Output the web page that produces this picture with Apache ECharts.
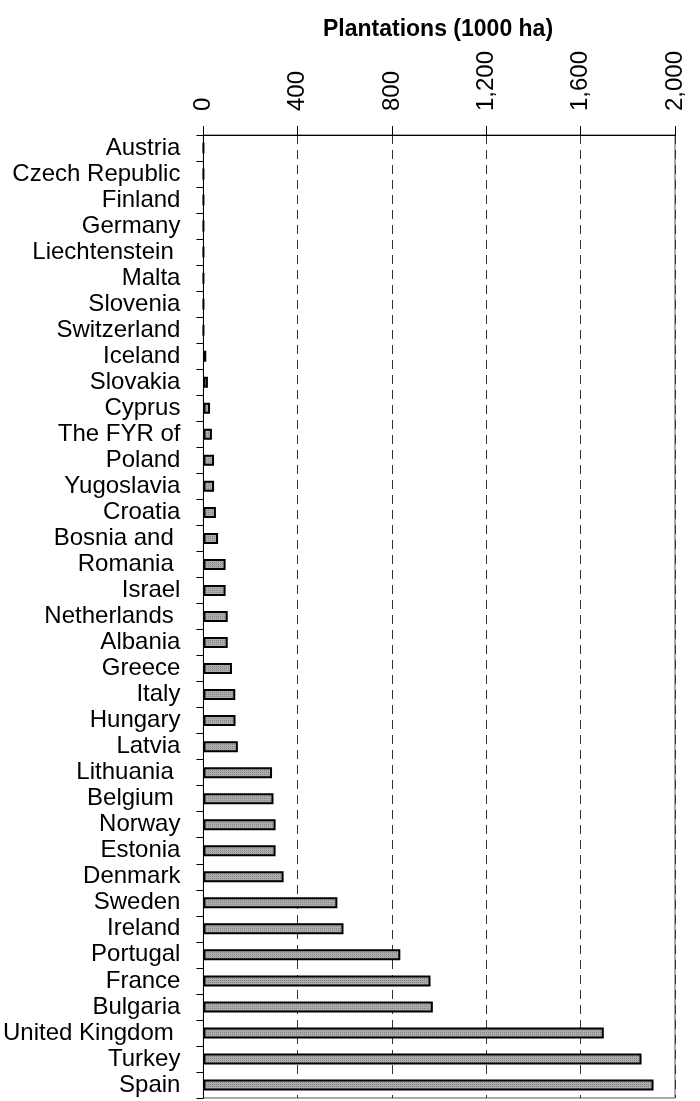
<!DOCTYPE html>
<html>
<head>
<meta charset="utf-8">
<script src="https://cdn.jsdelivr.net/npm/echarts@6/dist/echarts.min.js"></script>
<style>
html,body{margin:0;padding:0;background:#fff;}
#chart{width:700px;height:1101px;}
</style>
</head>
<body>
<div id="chart"></div>
<script>
const titleText = 'Plantations (1000 ha)';
const categories = ['Austria','Czech Republic','Finland','Germany','Liechtenstein ','Malta','Slovenia','Switzerland','Iceland','Slovakia','Cyprus','The FYR of','Poland','Yugoslavia','Croatia','Bosnia and ','Romania ','Israel','Netherlands ','Albania','Greece','Italy','Hungary','Latvia','Lithuania ','Belgium ','Norway','Estonia','Denmark','Sweden','Ireland','Portugal','France','Bulgaria','United Kingdom ','Turkey','Spain'];
const plantations = [0,0,0,0,0,0,0,0,12,19,28,36,45,45,53,62,94,94,103,103,121,135,136,146,291,297,306,306,340,568,594,835,963,973,1698,1858,1909];
const axisMin = 0, axisMax = 2000, axisInterval = 400;

const pc = document.createElement('canvas');
pc.width = 2; pc.height = 2;
const g = pc.getContext('2d');
g.fillStyle = '#adadad'; g.fillRect(0,0,2,2);
g.fillStyle = '#858585'; g.fillRect(0,0,1,1);

const chart = echarts.init(document.getElementById('chart'), null, {renderer:'canvas'});
const font = '"Liberation Sans", Arial, sans-serif';
chart.setOption({
  animation:false,
  backgroundColor:'#fff',
  title:{text:titleText,left:318,top:13,textStyle:{fontFamily:font,fontSize:23,fontWeight:'bold',color:'#000'}},
  grid:{left:201,right:25,top:135,bottom:3,show:true,borderColor:'#555',borderWidth:1},
  xAxis:{type:'value',position:'top',min:axisMin,max:axisMax,interval:axisInterval,
    axisLine:{show:true,lineStyle:{color:'#000',width:1}},
    axisTick:{show:true,length:9,lineStyle:{color:'#000'}},
    axisLabel:{rotate:-90,margin:24,fontFamily:font,fontSize:24,color:'#000',
      formatter:v=>v.toLocaleString('en-US')},
    splitLine:{show:true,lineStyle:{color:'#333',type:[9,6],width:1}}},
  yAxis:{type:'category',inverse:true,data:categories,
    axisLine:{show:true,lineStyle:{color:'#000',width:1}},
    axisTick:{show:true,length:7,lineStyle:{color:'#000'}},
    axisLabel:{interval:0,margin:23,fontFamily:font,fontSize:24,color:'#000'},
    splitLine:{show:false}},
  series:[{type:'bar',data:plantations,barWidth:11,
    itemStyle:{color:{image:pc,repeat:'repeat'},borderColor:'#000',borderWidth:2}}]
});
</script>
</body>
</html>
